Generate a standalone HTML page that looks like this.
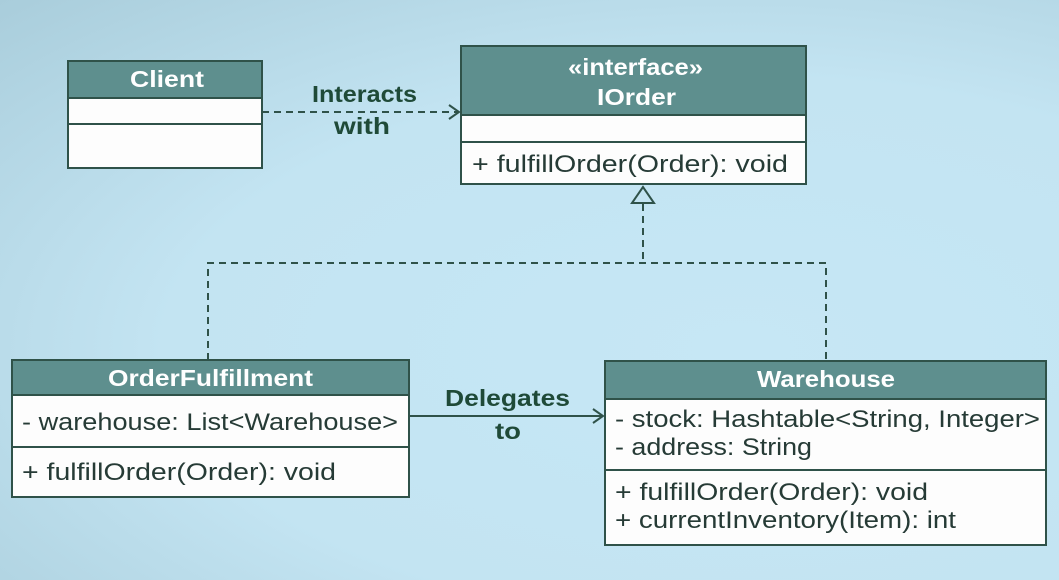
<!DOCTYPE html>
<html><head><style>
body{margin:0;width:1059px;height:580px;overflow:hidden;background:radial-gradient(ellipse at 70% 60%,#c6e7f5 0%,#c3e4f2 55%,#a9cddb 100%);}
svg{position:absolute;left:0;top:0}
text{font-family:"Liberation Sans",sans-serif;}
.h{fill:#5e8f8e;stroke:#2f5249;stroke-width:2}
.b{fill:#fdfdfd;stroke:#2f5249;stroke-width:2}
.ht{fill:#fff;font-weight:bold;font-size:23px;}
.t{fill:#263b36;font-size:24px}
.l{fill:#1f4a38;font-weight:bold;font-size:23px;}
.d{stroke:#2f5249;stroke-width:2;stroke-dasharray:7,5;fill:none}
</style></head><body>
<svg width="1059" height="580">
<!-- Client -->
<rect class="h" x="68" y="61" width="194" height="37"/>
<rect class="b" x="68" y="98" width="194" height="26"/>
<rect class="b" x="68" y="124" width="194" height="44"/>
<text class="ht" x="130" y="87" textLength="74" lengthAdjust="spacingAndGlyphs">Client</text>
<!-- IOrder -->
<rect class="h" x="461" y="46" width="345" height="69"/>
<rect class="b" x="461" y="115" width="345" height="27"/>
<rect class="b" x="461" y="142" width="345" height="42"/>
<text class="ht" x="568" y="75" textLength="135" lengthAdjust="spacingAndGlyphs">«interface»</text>
<text class="ht" x="597" y="105" textLength="79" lengthAdjust="spacingAndGlyphs">IOrder</text>
<text class="t" x="472" y="172" textLength="316" lengthAdjust="spacingAndGlyphs">+ fulfillOrder(Order): void</text>
<!-- Interacts -->
<line class="d" x1="262" y1="112" x2="459" y2="112"/>
<polyline points="449,105 459,112 449,119" fill="none" stroke="#2f5249" stroke-width="2"/>
<text class="l" x="312" y="102" textLength="105" lengthAdjust="spacingAndGlyphs">Interacts</text>
<text class="l" x="334" y="134" textLength="56" lengthAdjust="spacingAndGlyphs">with</text>
<!-- generalization -->
<polygon points="643,187 632,203 654,203" fill="#c3e4f2" stroke="#2f5249" stroke-width="2"/>
<line class="d" x1="643" y1="204" x2="643" y2="263"/>
<polyline class="d" points="208,360 208,263 826,263 826,362"/>
<!-- OrderFulfillment -->
<rect class="h" x="12" y="360" width="397" height="35"/>
<rect class="b" x="12" y="395" width="397" height="52"/>
<rect class="b" x="12" y="447" width="397" height="50"/>
<text class="ht" x="108" y="386" textLength="205" lengthAdjust="spacingAndGlyphs">OrderFulfillment</text>
<text class="t" x="22" y="430" textLength="376" lengthAdjust="spacingAndGlyphs">- warehouse: List&lt;Warehouse&gt;</text>
<text class="t" x="22" y="480" textLength="314" lengthAdjust="spacingAndGlyphs">+ fulfillOrder(Order): void</text>
<!-- Delegates -->
<line x1="409" y1="416" x2="603" y2="416" stroke="#2f5249" stroke-width="2"/>
<polyline points="593,409 603,416 593,423" fill="none" stroke="#2f5249" stroke-width="2"/>
<text class="l" x="445" y="406" textLength="125" lengthAdjust="spacingAndGlyphs">Delegates</text>
<text class="l" x="495" y="439" textLength="26" lengthAdjust="spacingAndGlyphs">to</text>
<!-- Warehouse -->
<rect class="h" x="605" y="361" width="441" height="38"/>
<rect class="b" x="605" y="399" width="441" height="71"/>
<rect class="b" x="605" y="470" width="441" height="75"/>
<text class="ht" x="757" y="387" textLength="138" lengthAdjust="spacingAndGlyphs">Warehouse</text>
<text class="t" x="615" y="427" textLength="425" lengthAdjust="spacingAndGlyphs">- stock: Hashtable&lt;String, Integer&gt;</text>
<text class="t" x="615" y="455" textLength="197" lengthAdjust="spacingAndGlyphs">- address: String</text>
<text class="t" x="615" y="500" textLength="313" lengthAdjust="spacingAndGlyphs">+ fulfillOrder(Order): void</text>
<text class="t" x="615" y="528" textLength="341" lengthAdjust="spacingAndGlyphs">+ currentInventory(Item): int</text>
</svg>
</body></html>
